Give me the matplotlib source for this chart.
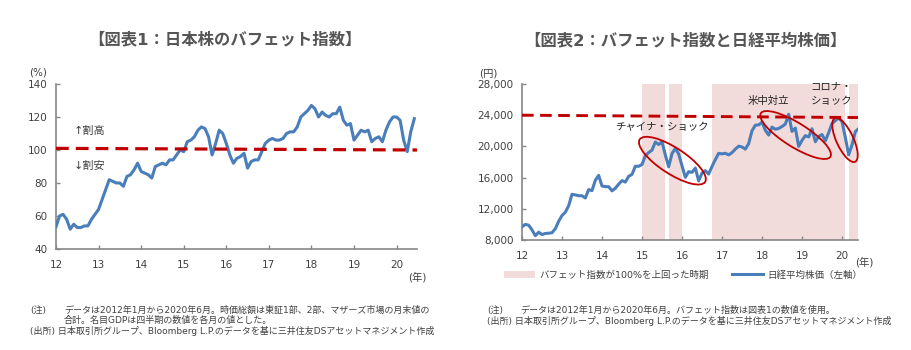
import numpy as np
import matplotlib
matplotlib.use("Agg")
import matplotlib.pyplot as plt
from matplotlib.patches import Ellipse, Patch
from matplotlib.lines import Line2D
from matplotlib import transforms

plt.rcParams['font.family'] = ['DejaVu Sans', 'Noto Sans CJK JP']

# ---------- データ ----------
# バフェット指数 (%) 2012年1月〜2020年6月 月次
buffett = [
    53.5, 60, 61, 58, 52, 55, 53, 53, 54, 54, 58, 61,
    64, 70, 76, 82, 81, 80, 80, 78, 84, 85, 88, 92,
    87, 86, 85, 83, 90, 91, 92, 91, 94, 94, 97, 100,
    99, 105, 106, 108, 112, 114, 113, 108, 97, 104, 112, 110,
    104, 97, 92, 95, 96, 98, 89, 93, 94, 94, 99, 104,
    106, 107, 106, 106, 107, 110, 111, 111, 114, 120, 122, 124,
    127, 125, 120, 123, 121, 120, 122, 122, 126, 118, 115, 116,
    106, 109, 112, 111, 112, 105, 107, 108, 105, 112, 117, 120,
    120, 118, 106, 99, 111, 119,
]

# 日経平均株価 (円) 2012年1月〜2020年6月 月次
nikkei = [
    9700, 10000, 9900, 9300, 8550, 9000, 8700, 8840, 8870, 8930, 9450, 10400,
    11140, 11560, 12400, 13860, 13780, 13680, 13670, 13390, 14460, 14330, 15660, 16290,
    14920, 14840, 14830, 14300, 14630, 15160, 15620, 15420, 16170, 16410, 17460, 17450,
    17670, 18800, 19210, 19520, 20560, 20240, 20590, 18890, 17390, 19080, 19750, 19030,
    17520, 16030, 16760, 16670, 17230, 15580, 16570, 16890, 16450, 17430, 18310, 19110,
    19040, 19120, 18910, 19200, 19650, 20030, 19930, 19650, 20360, 22010, 22720, 22760,
    23100, 22070, 21450, 22470, 22200, 22300, 22550, 22860, 24120, 21920, 22350, 20010,
    20770, 21380, 21210, 22260, 20600, 21280, 21520, 20700, 21760, 22930, 23290, 23660,
    23200, 21140, 18920, 20190, 21880, 22290,
]

months = 2012 + np.arange(len(buffett)) / 12.0

# 割高・割安の基準線 (左端, 右端)
ref_buffett = [101, 100]
ref_nikkei = [24000, 23700]

# バフェット指数が100%を上回った時期 (開始年, 終了年)
shade_periods = [(2015.0, 2015.58), (2015.67, 2016.0), (2016.75, 2020.08), (2020.17, 2020.42)]

year_ticks = list(range(2012, 2021))
year_labels = [str(y - 2000) for y in year_ticks]

# 楕円の注記 (中心x, 中心y, 幅px, 高さpx, 角度)
ellipses = [
    (2015.76, 18170, 78, 26, -33),
    (2018.84, 21460, 82, 24, -32),
    (2020.075, 20820, 48, 17, -65),
]

# ---------- 描画 ----------
BLUE = '#4a7ebb'
RED = '#c00000'
GRAY = '#404040'
AXIS = '#868686'
PINK = '#f2dcdb'

fig = plt.figure(figsize=(9.11, 3.5), dpi=100)


def style_axes(ax):
    for s in ['top', 'right']:
        ax.spines[s].set_visible(False)
    for s in ['left', 'bottom']:
        ax.spines[s].set_color(AXIS)
        ax.spines[s].set_linewidth(1.2)
    ax.tick_params(direction='in', length=3, width=1, color=AXIS,
                   labelsize=7.5, labelcolor=GRAY)
    ax.tick_params(axis='x', pad=8)
    ax.tick_params(axis='y', pad=6)


# 図表1
ax1 = fig.add_axes([56 / 911, 1 - 249 / 350, 361 / 911, 165 / 350])
ax1.plot(months, buffett, color=BLUE, lw=2.2, zorder=3)
ax1.plot([2012, 2020.48], ref_buffett, color=RED, lw=2.3, ls=(0, (4, 2.2)), zorder=4)
ax1.set_xlim(2012, 2020.48)
ax1.set_ylim(40, 140)
ax1.set_yticks(range(40, 141, 20))
ax1.set_xticks(year_ticks)
ax1.set_xticklabels(year_labels)
style_axes(ax1)
ax1.text(2012.42, 111.5, '↑割高', fontsize=8, color=GRAY, va='center')
ax1.text(2012.42, 90.3, '↓割安', fontsize=8, color=GRAY, va='center')
ax1.text(-0.05, 1.07, '(%)', transform=ax1.transAxes, fontsize=7.5, color=GRAY, ha='center', va='center')
ax1.text(1.0, -0.17, '(年)', transform=ax1.transAxes, fontsize=7.5, color=GRAY, ha='center', va='center')

# 図表2
ax2 = fig.add_axes([522 / 911, 1 - 240 / 350, 336 / 911, 156 / 350])
for a, b in shade_periods:
    ax2.axvspan(a, b, color=PINK, lw=0, zorder=1)
ax2.plot(months, nikkei, color=BLUE, lw=2.2, zorder=3)
ax2.plot([2012, 2020.4], ref_nikkei, color=RED, lw=2.1, ls=(0, (4, 2.2)), zorder=4)
ax2.set_xlim(2012, 2020.4)
ax2.set_ylim(8000, 28000)
ax2.set_yticks(range(8000, 28001, 4000))
ax2.set_yticklabels([f'{v:,}' for v in range(8000, 28001, 4000)])
ax2.set_xticks(year_ticks)
ax2.set_xticklabels(year_labels)
style_axes(ax2)

for cx, cy, w, h, ang in ellipses:
    tr = fig.dpi_scale_trans + transforms.ScaledTranslation(cx, cy, ax2.transData)
    ax2.add_patch(Ellipse((0, 0), w / 100, h / 100, angle=ang, transform=tr,
                          fill=False, ec=RED, lw=1.3, zorder=5, clip_on=False))

ax2.text(2015.5, 22490, 'チャイナ・ショック', fontsize=7.5, color='#222222', ha='center', va='center')
ax2.text(2018.15, 25820, '米中対立', fontsize=7.5, color='#222222', ha='center', va='center')
ax2.text(2019.73, 26780, 'コロナ・\nショック', fontsize=7.5, color='#222222', ha='center', va='center',
         linespacing=1.5)
ax2.text(-0.1, 1.07, '(円)', transform=ax2.transAxes, fontsize=7.5, color=GRAY, ha='center', va='center')
ax2.text(1.02, -0.14, '(年)', transform=ax2.transAxes, fontsize=7.5, color=GRAY, ha='center', va='center')

handles = [Patch(color=PINK, lw=0), Line2D([0], [0], color=BLUE, lw=2.2)]
labels = ['バフェット指数が100%を上回った時期', '日経平均株価（左軸）']
fig.legend(handles, labels, loc='center', bbox_to_anchor=(683 / 911, 1 - 275 / 350), ncol=2,
           frameon=False, fontsize=6.8, handlelength=3.3, handleheight=0.7, columnspacing=2.4,
           handletextpad=0.5, labelcolor=GRAY)

# タイトル
fig.text(225 / 911, 1 - 40 / 350, '【図表1：日本株のバフェット指数】', fontsize=11.8, fontweight='bold',
         color='#555555', ha='center', va='center')
fig.text(685 / 911, 1 - 40 / 350, '【図表2：バフェット指数と日経平均株価】', fontsize=11.8, fontweight='bold',
         color='#555555', ha='center', va='center')

# 注記
note_fs = 6.5
fig.text(30 / 911, 1 - 310 / 350, '(注)', fontsize=note_fs, color=GRAY, va='center')
fig.text(64 / 911, 1 - 310 / 350, 'データは2012年1月から2020年6月。時価総額は東証1部、2部、マザーズ市場の月末値の',
         fontsize=note_fs, color=GRAY, va='center')
fig.text(64 / 911, 1 - 320 / 350, '合計。名目GDPは四半期の数値を各月の値とした。', fontsize=note_fs, color=GRAY, va='center')
fig.text(30 / 911, 1 - 331 / 350, '(出所) 日本取引所グループ、Bloomberg L.P.のデータを基に三井住友DSアセットマネジメント作成',
         fontsize=note_fs, color=GRAY, va='center')

fig.text(487 / 911, 1 - 310 / 350, '(注)', fontsize=note_fs, color=GRAY, va='center')
fig.text(520 / 911, 1 - 310 / 350, 'データは2012年1月から2020年6月。バフェット指数は図表1の数値を使用。',
         fontsize=note_fs, color=GRAY, va='center')
fig.text(487 / 911, 1 - 321 / 350, '(出所) 日本取引所グループ、Bloomberg L.P.のデータを基に三井住友DSアセットマネジメント作成',
         fontsize=note_fs, color=GRAY, va='center')

fig.savefig('out.png', dpi=100)
